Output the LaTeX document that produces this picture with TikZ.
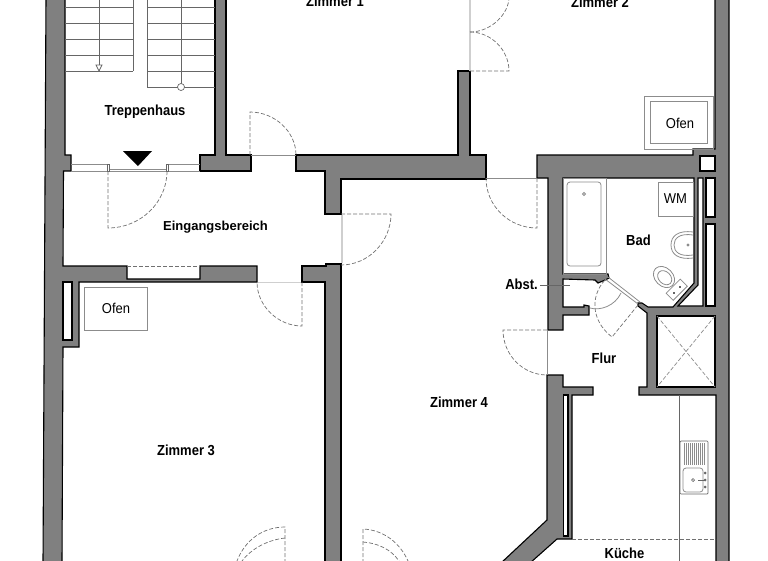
\documentclass[tikz,border=0pt]{standalone}
\usepackage{fontspec}
\setmainfont{Liberation Sans}
\tikzset{
  wall/.style={draw=black, fill=wallgray, line width=1.1pt, line join=miter},
  slot/.style={draw=black, fill=white, line width=1.1pt},
  door/.style={draw=doorgray, line width=0.7pt, dash pattern=on 4pt off 2pt},
  pane/.style={draw=panegray, line width=1.8pt},
  fine/.style={draw=finegray, line width=0.7pt},
  fixture/.style={draw=fixgray, line width=0.8pt},
  room/.style={font=\bfseries\fontsize{13}{13}\selectfont, yscale=1.12, transform shape},
  roomwide/.style={font=\bfseries\fontsize{13}{13}\selectfont},
  tag/.style={font=\fontsize{13}{13}\selectfont, yscale=1.1, transform shape}
}
\definecolor{wallgray}{HTML}{808080}
\definecolor{doorgray}{HTML}{707070}
\definecolor{panegray}{HTML}{CFCFCF}
\definecolor{finegray}{HTML}{666666}
\definecolor{fixgray}{HTML}{8C8C8C}
\begin{document}
\begin{tikzpicture}[x=1pt, y=-1pt]
\useasboundingbox (0,0) rectangle (768,560);
\draw [wall] (46,-3) -- (65,-3) -- (65,155) -- (71,155) -- (71,171) -- (63.5,171) -- (63,266) -- (127,266) -- (127,279) -- (200,279) -- (200,266) -- (257,266) -- (257,282) -- (79,282) -- (79,347) -- (63,347) -- (62,563) -- (43,563) -- cycle;
\draw [wall] (215,-3) -- (226,-3) -- (226,155) -- (251,155) -- (251,171) -- (200,171) -- (200,155) -- (215,155) -- cycle;
\draw [wall] (296,155) -- (458,155) -- (458,71) -- (470,71) -- (470,155) -- (486,155) -- (486,179) -- (341,179) -- (341,214) -- (325,214) -- (325,171) -- (296,171) -- cycle;
\draw [wall] (302,266) -- (326,266) -- (326,264) -- (341,264) -- (341,563) -- (325,563) -- (325,282) -- (302,282) -- cycle;
\draw [wall] (537,155) -- (693,155) -- (693,149) -- (715,149) -- (715,-3) -- (729,-3) -- (729,563) -- (716,563) -- (716,395) -- (639,395) -- (639,387) -- (647,387) -- (647,313) -- (638,306) -- (638,303) -- (642,303) -- (648,307) -- (673,307) -- (694,283) -- (694,178) -- (563,178) -- (563,274) -- (608,274) -- (609,278) -- (605,280) -- (598,283) -- (595,280) -- (563,279) -- (563,307) -- (584,307) -- (584,305) -- (589,306) -- (589,315) -- (563,315) -- (563,330) -- (548,330) -- (548,178) -- (537,178) -- cycle;
\draw [wall] (547,375) -- (563,375) -- (563,387) -- (593,387) -- (593,395) -- (572,395) -- (572,539) -- (557,539) -- (530,563) -- (501,563) -- (547,520) -- cycle;
\draw [slot] (63,282) rectangle (72,340);
\draw [slot] (700,156) rectangle (715,171);
\draw [slot] (706,178) rectangle (715,217);
\draw [slot] (706,224) rectangle (715,306);
\draw [slot] (698,178) -- (703,178) -- (703,306) -- (678,306) -- (698,285) -- cycle;
\draw [slot] (657,316) rectangle (715,387);
\draw [slot] (563.5,395) rectangle (568,536);

\foreach \y in {7,23,39,55,71} \draw [fine] (65,\y) -- (133,\y);
\foreach \y in {7,23,39,55,71,87} \draw [fine] (147,\y) -- (215,\y);
\draw [fine] (133,-2) -- (133,71);
\draw [fine] (147,-2) -- (147,87);
\draw [fine] (99,-2) -- (99,71);
\draw [fine] (181,-2) -- (181,83.5);
\draw [fine, fill=white] (96,65) -- (102,65) -- (99,71) -- cycle;
\draw [fine, fill=white] (181,87) circle (3.5);
\fill [black] (123,151) -- (152,151) -- (138,166) -- cycle;

\draw [fixture] (71,164) -- (108,164);
\draw [fixture] (167,164) -- (200,164);
\draw [fixture] (71,171) -- (200,171);
\draw [fixture] (108,169) -- (167,169);
\draw [fine, fill=white] (107,164) rectangle (109,171);
\draw [fine, fill=white] (166,164) rectangle (168,171);
\draw [door] (108,171) -- (108,228) .. controls (140,228) and (167,203) .. (167,171);
\draw [door] (127,266) -- (200,266);
\draw [fixture] (251,155) -- (296,155);
\draw [door] (250,155) -- (250,112) .. controls (275,112) and (296,132) .. (296,155);
\draw [pane] (470,-2) -- (470,71);
\draw [door] (470,71) -- (509,71) .. controls (509,50) and (491,32) .. (470,32);
\draw [door] (470,32) .. controls (491,32) and (509,14) .. (509,-3);
\draw [pane] (342,215) -- (342,263);
\draw [door] (341,214) -- (391,214) .. controls (391,241) and (369,265) .. (341,265);
\draw [pane] (258,282.5) -- (301,282.5);
\draw [door] (302,282) -- (302,326) .. controls (278,326) and (257,306) .. (257,282);
\draw [fixture] (486,178.5) -- (537,178.5);
\draw [door] (537,178) -- (537,228) .. controls (509,228) and (486,206) .. (486,178);
\draw [fixture] (547.5,330) -- (547.5,375);
\draw [door] (547,330) -- (503,330) .. controls (503,355) and (523,375) .. (547,375);
\draw [fixture] (605,279) -- (638,304);
\draw [fixture] (608,277) -- (640,302);
\draw [door] (638,305) -- (612,337) .. controls (590,320) and (591,295) .. (605,280);
\draw [fixture] (590,308) .. controls (600,311) and (615,306) .. (621,293);
\draw [fine] (540,285) -- (570,285);
\draw [door] (572,539) -- (716,539);
\draw [fine] (679,395) -- (679,563);
\draw [door, draw=fixgray] (657,316) -- (715,387);
\draw [door, draw=fixgray] (715,316) -- (657,387);
\draw [door] (285,563) -- (285,527) .. controls (263,527) and (245,540) .. (237,561);
\draw [door] (285,538) .. controls (268,540) and (252,548) .. (242,561);
\draw [door] (363,563) -- (363,529) .. controls (384,530) and (400,543) .. (408,561);
\draw [door] (363,542) .. controls (377,543) and (391,549) .. (399,561);

\draw [fixture] (644,96) rectangle (713,149);
\draw [fixture] (650,101) rectangle (707,143);
\draw [fixture] (84,287) rectangle (147,330);
\draw [fixture] (658,182) rectangle (693,216);
\draw [fixture] (563,178) rectangle (606,274);
\draw [fixture, rounded corners=3pt] (567,182) rectangle (601,266);
\draw [fixture] (584,194) circle (1.5);
\draw [fixture] (693,232) .. controls (678,230) and (671,236) .. (671,245) .. controls (671,254) and (678,260) .. (693,258);
\draw [fixture] (693,235) .. controls (680,233) and (674,238) .. (674,245) .. controls (674,252) and (680,257) .. (693,255);
\draw [fixture] (688,245) circle (1);
\begin{scope}[shift={(664,277)}, rotate=-45]
\draw [fixture] (0,0) ellipse (12 and 9);
\draw [fixture] (1,0) ellipse (8 and 6);
\draw [fixture, fill=white] (13,-10) rectangle (23,10);
\draw [fine] (18,-4) circle (1);
\draw [fine] (18,4) circle (1);
\end{scope}

\draw [fine, rounded corners=1pt] (680,441) rectangle (708,494);
\foreach \x in {684,686,...,704} \draw [fixture] (\x,443) -- (\x,465);
\draw [fixture, rounded corners=3pt] (683,468) rectangle (703,492);
\draw [fine] (693,480) circle (1.5);
\draw [fine] (698,480) -- (705,480);
\foreach \y in {473,480,487} \fill [finegray] (705,\y) circle (1.5);

\node [room] (zimmereins) at (335,1) {Zimmer 1};
\node [room] (zimmerzwei) at (600,2) {Zimmer 2};
\node [room] (treppenhaus) at (145,111.5) {Treppenhaus};
\node [roomwide] (eingang) at (215.5,227.5) {Eingangsbereich};
\node [room] (zimmerdrei) at (186,450) {Zimmer 3};
\node [room] (zimmervier) at (459,402) {Zimmer 4};
\node [room] (bad) at (638.5,240) {Bad};
\node [room] (flur) at (604,358) {Flur};
\node [room] (abst) at (521.5,284.5) {Abst.};
\node [room] (kueche) at (624.5,553) {Küche};
\node [tag] (ofeneins) at (680,123) {Ofen};
\node [tag] (ofenzwei) at (116,308) {Ofen};
\node [tag] (wm) at (675.5,199) {WM};
\end{tikzpicture}
\end{document}
